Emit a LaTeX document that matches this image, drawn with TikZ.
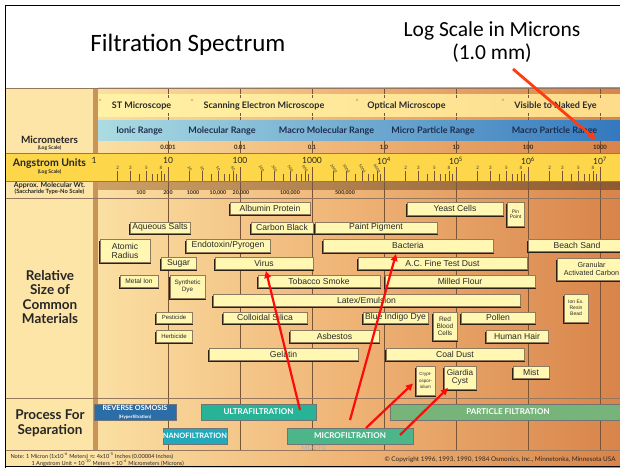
\documentclass[tikz,border=0pt]{standalone}
\usepackage{fontspec}
\setmainfont{Liberation Sans}
\newfontfamily\lato{Lato}
\newfontfamily\carlito{Carlito}
\usetikzlibrary{arrows.meta}
\definecolor{labbg}{HTML}{FCE5A6}
\definecolor{stripc}{HTML}{C89458}
\definecolor{bgL}{HTML}{FBDFA2}
\definecolor{bgM}{HTML}{EEB274}
\definecolor{bgR}{HTML}{D8844A}
\definecolor{gridc}{HTML}{7A5535}
\definecolor{angy}{HTML}{FDD64A}
\definecolor{mwL}{HTML}{CDA066}
\definecolor{mwR}{HTML}{8E5A30}
\definecolor{micL}{HTML}{FFF2A6}
\definecolor{micR}{HTML}{FDDC8C}
\definecolor{blueL}{HTML}{ABDCE2}
\definecolor{blueR}{HTML}{3479BE}
\definecolor{rangetxt}{HTML}{1E2D4F}
\definecolor{boxfill}{HTML}{FFF7B2}
\definecolor{boxdraw}{HTML}{8C7B5E}
\definecolor{boxshade}{HTML}{2A2018}
\definecolor{txtc}{HTML}{2A2A2A}
\definecolor{rocol}{HTML}{2B6DA6}
\definecolor{ufcol}{HTML}{27B496}
\definecolor{nfcol}{HTML}{22A9BA}
\definecolor{mfcol}{HTML}{4DB58A}
\definecolor{pfcol}{HTML}{77B47A}
\definecolor{arrred}{HTML}{FF0A0A}
\definecolor{arrorange}{HTML}{FF3B12}
\definecolor{caretc}{HTML}{E8603A}
\definecolor{smalltxt}{HTML}{3A2A1A}
\newcommand\matbox[7][\fontsize{8.6}{9}\selectfont]{%
  \fill[boxshade] ({#3-0.7},{#4+2}) rectangle ({#5+0.7},{#6+2});
  \node[matnode, font=#1, minimum width={(#5-#3)*1pt}, minimum height={(#6-#4)*1pt}] (#2) at ({(#3+#5)/2},{(#4+#6)/2}) {#7};
}
\newcommand\procbox[7]{%
  \node[procnode, fill=#6, minimum width={(#4-#2)*1pt}, minimum height={(#5-#3)*1pt}] (#1) at ({(#2+#4)/2},{(#3+#5)/2}) {#7};
}
\begin{document}
\begin{tikzpicture}[x=1pt,y=-1pt,
  matnode/.style={draw=boxdraw, line width=0.4pt, fill=boxfill, inner sep=0pt, outer sep=0pt, text=txtc, align=center},
  procnode/.style={draw=black!55, line width=0.4pt, inner sep=0pt, outer sep=0pt, text=white, align=center, font=\lato\bfseries\fontsize{8}{9}\selectfont},
  labtxt/.style={font=\lato\bfseries\fontsize{13.5}{14.5}\selectfont, text=black!85, align=center},
  scopetxt/.style={font=\lato\bfseries\fontsize{9}{10}\selectfont, text=txtc},
  rangelab/.style={font=\lato\bfseries\fontsize{9}{10}\selectfont, text=rangetxt},
  umlab/.style={font=\lato\bfseries\fontsize{6}{7}\selectfont, text=smalltxt},
  anglab/.style={font=\lato\fontsize{8.5}{9}\selectfont, text=black!85},
  ticklab/.style={font=\lato\fontsize{4.5}{5}\selectfont, text=black!80, inner sep=0.3pt},
  rticklab/.style={font=\lato\fontsize{3.8}{4}\selectfont, text=black!80, inner sep=0pt},
  mwlab/.style={font=\lato\bfseries\fontsize{5.3}{6}\selectfont, text=smalltxt},
  gridline/.style={draw=gridc, line width=0.6pt},
  sepline/.style={draw=gridc!80, line width=0.7pt},
  redarrow/.style={draw=arrred, line width=2.2pt, -{Triangle[length=7pt,width=6.5pt]}},
]
\useasboundingbox (0,0) rectangle (620,468);
\clip (0,0) rectangle (620,468);
\fill[white] (0,0) rectangle (620,468);
% backgrounds
\fill[labbg] (6,88) rectangle (98,467);
\shade[left color=bgL, right color=bgR, middle color=bgM] (98,88) rectangle (620,467);
\fill[stripc] (93,88) rectangle (98,450);
\shade[left color=mwL, right color=mwR] (98,181) rectangle (620,189);
% grid lines
\foreach \gx in {168,240,312,384,456,528,600} {
  \draw[gridline] (\gx,88) -- (\gx,450);
}
% microscope band and range band
\shade[left color=micL, right color=micR] (98,95) rectangle (620,116);
\shade[left color=blueL, right color=blueR] (98,120) rectangle (620,140);
\foreach \gx in {168,240,312,384,456,528,600} {
  \draw[gridline] (\gx,95) -- (\gx,98);
  \draw[gridline] (\gx,113) -- (\gx,116);
}
% angstrom band
\fill[angy] (6,153) rectangle (620,181);
\foreach \gx in {168,240,312,384,456,528,600} {
  \draw[gridline] (\gx,167) -- (\gx,181);
}
% horizontal separators
\foreach \hy in {88,153,181,198,398,450} {
  \draw[sepline] (6,\hy) -- (620,\hy);
}
% minor ticks
\foreach \d in {0,...,6} {
  \foreach \k/\lb in {2/1,3/1,4/0,5/1,6/0,7/0,8/1,9/0} {
    \pgfmathsetmacro\tx{96+72*\d+72*log10(\k)}
    \ifnum\lb=1
      \draw[gridline, line width=0.5pt] (\tx,171) -- (\tx,181);
      \ifnum\d=0
        \node[ticklab] (tk\d\k) at (\tx,168) {\k};
      \else\ifnum\d>3
        \node[ticklab] (tk\d\k) at (\tx,168) {\k};
      \else
        \pgfmathtruncatemacro\lv{\k*10^\d}
        \node[rticklab, rotate=-55] (tk\d\k) at (\tx,168.5) {\lv};
      \fi\fi
    \else
      \draw[gridline, line width=0.5pt] (\tx,174) -- (\tx,181);
    \fi
  }
}
% angstrom decade labels
\foreach \ax/\at/\an in {94/1/a0,168/10/a1,240/100/a2,312/1000/a3,384/{10\textsuperscript{4}}/a4,456/{10\textsuperscript{5}}/a5,528/{10\textsuperscript{6}}/a6,600/{10\textsuperscript{7}}/a7} {
  \node[anglab, inner sep=0.3pt] (\an) at (\ax,160.5) {\at};
}
% micrometer labels
\foreach \ux/\ut/\un in {168/0.001/um1,240/0.01/um2,312/0.1/um3,384/1.0/um4,456/10/um5,528/100/um6,600/1000/um7} {
  \node[umlab] (\un) at (\ux,147.5) {\ut};
}
% molecular weight labels
\foreach \mx/\mt/\mn in {141/100/mw1,168/200/mw2,193/1000/mw3,218/{10,000}/mw4,241/{20,000}/mw5,290/{100,000}/mw6,345/{500,000}/mw7} {
  \node[mwlab] (\mn) at (\mx,192.5) {\mt};
}
% microscope labels
\node[scopetxt] (st) at (141.5,105.5) {ST Microscope};
\node[scopetxt] (sem) at (264,105.5) {Scanning Electron Microscope};
\node[scopetxt] (opt) at (406.5,105.5) {Optical Microscope};
\node[scopetxt] (vis) at (555.5,105.5) {Visible to Naked Eye};
\foreach \cx/\cn in {100/car1,192/car2,357/car3,503/car4} {
  \node[font=\lato\fontsize{6}{6}\selectfont, text=caretc] (\cn) at (\cx,101) {\textasciicircum};
}
% range labels
\node[rangelab] (ionic) at (139.5,130.5) {Ionic Range};
\node[rangelab] (molr) at (222,130.5) {Molecular Range};
\node[rangelab] (macmol) at (326.5,130.5) {Macro Molecular Range};
\node[rangelab] (micp) at (433,130.5) {Micro Particle Range};
\node[rangelab] (macp) at (554.5,130.5) {Macro Particle Range};
% left column labels
\node[font=\lato\bfseries\fontsize{10}{11}\selectfont, text=black!85] (lmic) at (49.5,140) {Micrometers};
\node[font=\lato\bfseries\fontsize{5}{6}\selectfont, text=black!85] (lmic2) at (49.5,148) {(Log Scale)};
\node[font=\lato\bfseries\fontsize{10.5}{11}\selectfont, text=black!85] (lang) at (49.5,163.5) {Angstrom Units};
\node[font=\lato\bfseries\fontsize{5}{6}\selectfont, text=black!85] (lang2) at (49.5,172) {(Log Scale)};
\node[font=\lato\bfseries\fontsize{7}{8}\selectfont, text=black!85] (lmw) at (49.5,185) {Approx. Molecular Wt.};
\node[font=\lato\bfseries\fontsize{5.8}{6}\selectfont, text=black!85] (lmw2) at (49.5,192) {(Saccharide Type-No Scale)};
\node[labtxt] (lrel) at (50,297) {Relative\\Size of\\Common\\Materials};
\node[labtxt] (lproc) at (50,423) {Process For\\Separation};
% title area
\node[font=\carlito\fontsize{25}{28}\selectfont] (title) at (188,45) {Filtration Spectrum};
\node[font=\carlito\fontsize{21.5}{23}\selectfont, align=center] (logtxt) at (492,42.5) {Log Scale in Microns\\(1.0 mm)};
% material boxes
\matbox{albumin}{230}{202}{310}{214}{Albumin Protein}
\matbox{aqueous}{130}{222}{190}{233}{Aqueous Salts}
\matbox{carbon}{251}{222}{313}{233}{Carbon Black}
\matbox{paint}{315}{222}{437}{233}{Paint Pigment}
\matbox{yeast}{407}{202}{503}{215}{Yeast Cells}
\matbox[\fontsize{5}{5.5}\selectfont]{pin}{507}{202}{524}{226}{Pin\\Point}
\matbox{atomic}{100}{239}{150}{262}{Atomic\\Radius}
\matbox{endo}{186}{239}{270}{252}{Endotoxin/Pyrogen}
\matbox{bacteria}{323}{239}{493}{252}{Bacteria}
\matbox{beach}{528}{239}{626}{251}{Beach Sand}
\matbox{sugar}{161}{257}{196}{269}{Sugar}
\matbox{virus}{215}{257}{313}{269}{Virus}
\matbox{acdust}{358}{257}{527}{269}{A.C. Fine Test Dust}
\matbox[\fontsize{7.2}{7.6}\selectfont]{granular}{557}{258}{626}{280}{Granular\\Activated Carbon}
\matbox[\fontsize{6.6}{7}\selectfont]{metal}{120}{275}{158}{287}{Metal Ion}
\matbox[\fontsize{6.3}{7}\selectfont]{synth}{170}{275}{205}{298}{Synthetic\\Dye}
\matbox{tobacco}{258}{275}{380}{287}{Tobacco Smoke}
\matbox{milled}{385}{275}{535}{287}{Milled Flour}
\matbox{latex}{213}{294}{520}{306}{Latex/Emulsion}
\matbox[\fontsize{5}{6}\selectfont]{ionex}{564}{294}{588}{322}{Ion Ex.\\Resin\\Bead}
\matbox[\fontsize{6}{6.5}\selectfont]{pesticide}{156}{312}{192}{323}{Pesticide}
\matbox{colloidal}{223}{312}{307}{323}{Colloidal Silica}
\matbox{indigo}{363}{312}{428}{323}{Blue Indigo Dye}
\matbox[\fontsize{6.5}{7}\selectfont]{rbc}{433}{312}{457}{340}{Red\\Blood\\Cells}
\matbox{pollen}{461}{312}{535}{323}{Pollen}
\matbox[\fontsize{6}{6.5}\selectfont]{herbicide}{156}{330}{192}{342}{Herbicide}
\matbox{asbestos}{290}{330}{379}{342}{Asbestos}
\matbox{hair}{486}{330}{548}{342}{Human Hair}
\matbox{gelatin}{209}{348}{358}{360}{Gelatin}
\matbox{coal}{386}{348}{524}{360}{Coal Dust}
\matbox[\fontsize{4.5}{6.5}\selectfont]{crypto}{416}{366}{435}{395}{Crypt-\\ospor-\\idium}
\matbox[\fontsize{8.2}{8.2}\selectfont]{giardia}{444}{366}{476}{389}{Giardia\\Cyst}
\matbox{mist}{513}{366}{549}{378}{Mist}
% process boxes
\procbox{ro}{94}{404}{176}{420}{rocol}{\fontsize{7.2}{8}\selectfont REVERSE OSMOSIS\\[-1.5pt]{\fontsize{4.5}{5}\selectfont (Hyperfiltration)}}
\procbox{uf}{201}{404}{316}{420}{ufcol}{ULTRAFILTRATION}
\procbox{nf}{163}{428}{227}{444}{nfcol}{\fontsize{7.4}{8}\selectfont NANOFILTRATION}
\procbox{mf}{287}{428}{413}{444}{mfcol}{MICROFILTRATION}
\procbox{pf}{390}{404}{626}{420}{pfcol}{PARTICLE FILTRATION}
\node[font=\lato\bfseries\fontsize{7}{8}\selectfont, text=black!30] (mdet) at (314,447.5) {MDET\textcopyright};
% notes
\node[font=\lato\fontsize{5.6}{7}\selectfont, anchor=west, text=black!85] (note1) at (7,456) {Note: 1 Micron (1x10\textsuperscript{-6} Meters) $\approx$ 4x10\textsuperscript{-5} Inches (0.00004 Inches)};
\node[font=\lato\fontsize{5.6}{7}\selectfont, anchor=west, text=black!85] (note2) at (28,463) {1 Angstrom Unit = 10\textsuperscript{-10} Meters = 10\textsuperscript{-4} Micrometers (Microns)};
\node[font=\lato\fontsize{6.4}{7}\selectfont, anchor=west, text=black!85] (copy) at (381,459.5) {\textcopyright{} Copyright 1996, 1993, 1990, 1984 Osmonics, Inc., Minnetonka, Minnesota USA};
% arrows
\coordinate (topstart) at (513,69);
\draw[draw=arrorange, line width=2.8pt, -{Triangle[length=8pt,width=7.5pt]}] (topstart) -- ([xshift=-4pt,yshift=2pt]um7.north);
\coordinate (ufA) at (300,410);
\draw[redarrow] (ufA) -- ([xshift=2pt,yshift=-2pt]virus.south);
\coordinate (mfA) at (350,420);
\draw[redarrow] (mfA) -- ([xshift=-12pt,yshift=-2pt]bacteria.south);
\coordinate (mfB) at (366,428);
\draw[redarrow] (mfB) -- ([xshift=-3pt,yshift=-3pt]crypto.west);
\coordinate (mfC) at (400,435);
\draw[redarrow] (mfC) -- ([xshift=4pt,yshift=1pt]giardia.south west);
% frame
\draw[line width=1.5pt] (5.5,468) -- (5.5,5.5) -- (620,5.5);
\draw[line width=1.2pt] (5.5,466.6) -- (620,466.6);
\end{tikzpicture}
\end{document}
